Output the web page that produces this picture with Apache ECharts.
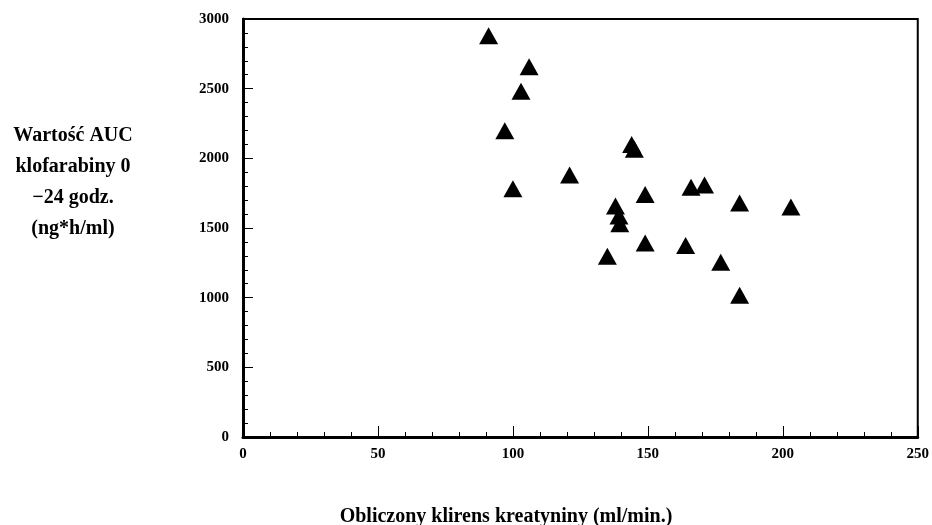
<!DOCTYPE html>
<html>
<head>
<meta charset="utf-8">
<script src="https://cdn.jsdelivr.net/npm/echarts@6/dist/echarts.min.js"></script>
<style>html,body{margin:0;padding:0;background:#fff}#c{width:932px;height:525px}</style>
</head>
<body>
<div id="c"></div>
<script>
// Creatinine clearance (ml/min)
var clearance = [91, 106, 103, 97, 100, 121, 144, 145, 149, 166, 171, 184, 203, 138, 139.3, 139.6, 135, 149, 164, 177, 184];
// Clofarabine AUC 0-24 h (ng*h/ml)
var auc = [2880, 2658, 2482, 2198, 1782, 1881, 2100, 2065, 1741, 1793, 1809, 1680, 1650, 1657, 1587, 1531, 1298, 1393, 1375, 1254, 1017];
var xTicks = [0, 50, 100, 150, 200, 250];
var yTicks = [0, 500, 1000, 1500, 2000, 2500, 3000];
var yTitle = ['Wartość AUC', 'klofarabiny 0', '\u221224 godz.', '(ng*h/ml)'];
var xTitle = 'Obliczony klirens kreatyniny (ml/min.)';

var points = clearance.map(function (x, i) { return [x, auc[i]]; });
var font = 'Liberation Serif';
var chart = echarts.init(document.getElementById('c'));
chart.setOption({
  animation: false,
  grid: { left: 243, right: 13, top: 19, bottom: 88, show: true, borderColor: '#000', borderWidth: 2 },
  xAxis: {
    type: 'value', min: xTicks[0], max: xTicks[xTicks.length - 1], interval: 50,
    axisLine: { show: true, lineStyle: { color: '#000', width: 3 } },
    axisTick: { show: true, inside: true, length: 11, lineStyle: { color: '#000', width: 1 } },
    minorTick: { show: true, splitNumber: 5, length: 5, lineStyle: { color: '#000', width: 1 } },
    splitLine: { show: false },
    axisLabel: { color: '#000', fontFamily: font, fontWeight: 'bold', fontSize: 15, margin: 10, formatter: function (v) { return String(v); } }
  },
  yAxis: {
    type: 'value', min: yTicks[0], max: yTicks[yTicks.length - 1], interval: 500,
    axisLine: { show: true, lineStyle: { color: '#000', width: 3 } },
    axisTick: { show: true, inside: true, length: 10, lineStyle: { color: '#000', width: 1 } },
    minorTick: { show: true, splitNumber: 5, length: 5, lineStyle: { color: '#000', width: 1 } },
    splitLine: { show: false },
    axisLabel: { color: '#000', fontFamily: font, fontWeight: 'bold', fontSize: 15, margin: 14, formatter: function (v) { return String(v); } }
  },
  graphic: [
    { type: 'text', x: 73, y: 182, style: { text: yTitle.join('\n'), fill: '#000', font: 'bold 20px "Liberation Serif"', textAlign: 'center', textVerticalAlign: 'middle', lineHeight: 31 } },
    { type: 'text', x: 506, y: 517, style: { text: xTitle, fill: '#000', font: 'bold 20px "Liberation Serif"', textAlign: 'center', textVerticalAlign: 'middle' } }
  ],
  series: [{
    type: 'scatter', data: points, symbol: 'triangle', symbolSize: [19, 17],
    itemStyle: { color: '#000', opacity: 1 }
  }]
});
</script>
</body>
</html>
